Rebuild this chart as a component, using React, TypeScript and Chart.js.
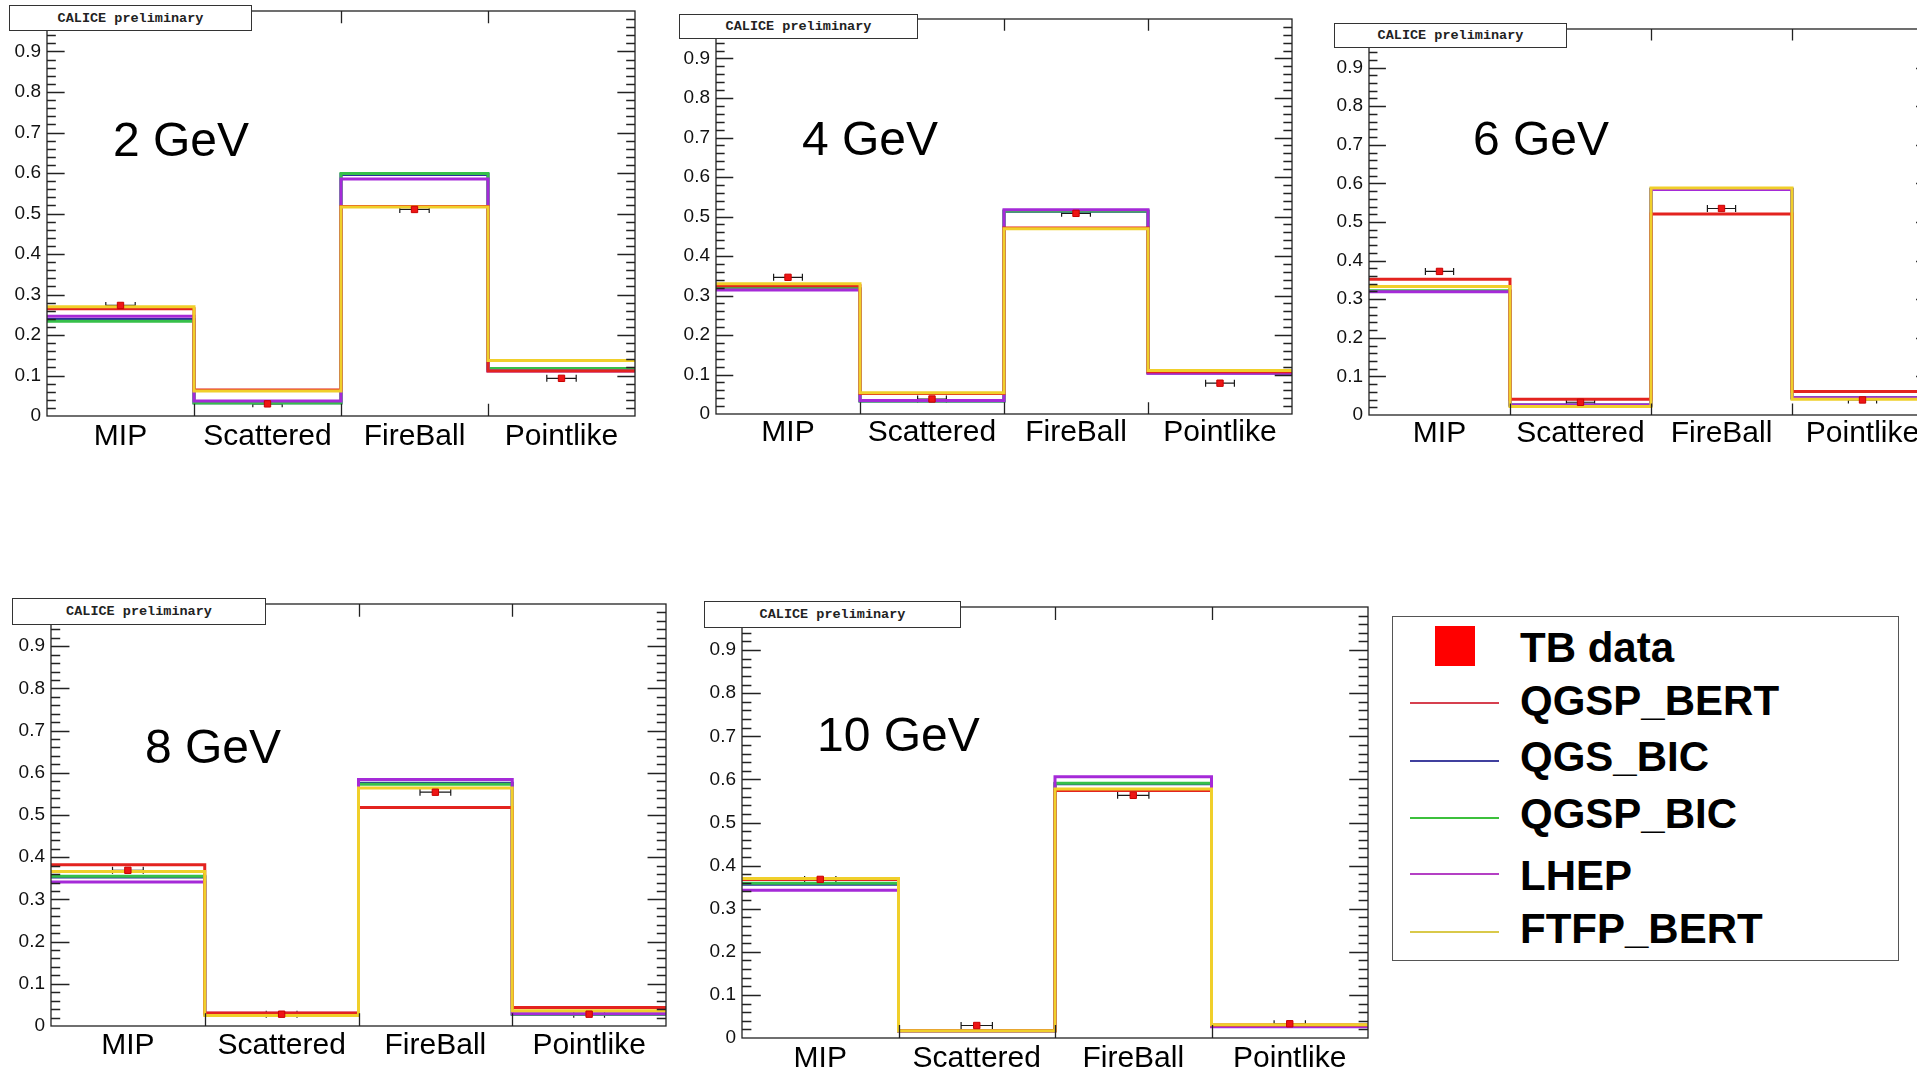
import React, { useEffect, useRef } from "react";
import { Chart, registerables } from "chart.js";

Chart.register(...registerables);

// ---------------- data ----------------
const CATEGORIES = ["MIP", "Scattered", "FireBall", "Pointlike"];
const ENERGY_LABELS = ["2 GeV", "4 GeV", "6 GeV", "8 GeV", "10 GeV"];
const Y_TICK_LABELS = ["0", "0.1", "0.2", "0.3", "0.4", "0.5", "0.6", "0.7", "0.8", "0.9"];
const Y_MAX = 1;

// one row per energy (2, 4, 6, 8, 10 GeV), one column per category
const TB_DATA = [
  [0.273, 0.030, 0.510, 0.093],
  [0.346, 0.038, 0.508, 0.078],
  [0.372, 0.033, 0.535, 0.039],
  [0.369, 0.028, 0.554, 0.028],
  [0.368, 0.029, 0.563, 0.033],
];
const TB_XERR = 0.1; // horizontal error bar half width (bin units)

const QGSP_BERT = [
  [0.265, 0.064, 0.517, 0.111],
  [0.325, 0.052, 0.471, 0.107],
  [0.352, 0.041, 0.521, 0.061],
  [0.382, 0.031, 0.518, 0.044],
  [0.368, 0.017, 0.574, 0.030],
];
const QGS_BIC = [
  [0.238, 0.033, 0.596, 0.113],
  [0.316, 0.033, 0.513, 0.104],
  [0.320, 0.026, 0.585, 0.045],
  [0.353, 0.029, 0.575, 0.028],
  [0.357, 0.017, 0.590, 0.027],
];
const QGSP_BIC = [
  [0.234, 0.032, 0.599, 0.117],
  [0.318, 0.033, 0.514, 0.105],
  [0.322, 0.025, 0.585, 0.044],
  [0.355, 0.028, 0.573, 0.028],
  [0.359, 0.017, 0.591, 0.028],
];
const LHEP = [
  [0.246, 0.037, 0.585, 0.111],
  [0.314, 0.034, 0.517, 0.103],
  [0.319, 0.026, 0.584, 0.045],
  [0.341, 0.030, 0.584, 0.029],
  [0.343, 0.017, 0.606, 0.026],
];
const FTFP_BERT = [
  [0.270, 0.062, 0.516, 0.137],
  [0.330, 0.054, 0.469, 0.110],
  [0.333, 0.022, 0.588, 0.041],
  [0.366, 0.025, 0.564, 0.036],
  [0.370, 0.017, 0.578, 0.031],
];

const MODEL_NAMES = ["QGSP_BERT", "QGS_BIC", "QGSP_BIC", "LHEP", "FTFP_BERT"];
const MODEL_VALUES = [QGSP_BERT, QGS_BIC, QGSP_BIC, LHEP, FTFP_BERT];
const MODEL_COLORS = ["#e3231f", "#2b2f9c", "#36c04a", "#a52ad8", "#f0cf2a"];
const LEGEND_COLORS = ["#d6404f", "#40409e", "#3cc03c", "#b440c4", "#d9c94a"];
// drawing priority: first = on top
const DRAW_ORDER = [4, 0, 3, 2, 1];

// ---------------- layout ----------------
const SANS = "'Liberation Sans', Arial, Helvetica, sans-serif";
const Y_AXIS_W = 50;
const X_AXIS_H = 44;
const PAD_TOP = 22;
const PAD_RIGHT = 6;

const PANELS = [
  { l: 47, t: 11, r: 635, b: 416, cal: { x: 9, y: 5, w: 243, h: 26 }, en: { x: 113, y: 116 }, lp: 3 },
  { l: 716, t: 19, r: 1292, b: 414, cal: { x: 679, y: 14, w: 239, h: 25 }, en: { x: 802, y: 115 }, lp: 1 },
  { l: 1369, t: 29, r: 1933, b: 415, cal: { x: 1334, y: 23, w: 233, h: 25 }, en: { x: 1473, y: 115 }, lp: 1 },
  { l: 51, t: 604, r: 666, b: 1026, cal: { x: 12, y: 598, w: 254, h: 27 }, en: { x: 145, y: 723 }, lp: 2 },
  { l: 742, t: 607, r: 1368, b: 1038, cal: { x: 704, y: 601, w: 257, h: 27 }, en: { x: 817, y: 711 }, lp: 3 },
];

const rootFramePlugin = {
  id: "rootFrame",
  beforeDatasetsDraw(chart: any) {
    const ctx = chart.ctx;
    const xs = chart.scales.x;
    const ys = chart.scales.y;
    const ds = chart.data.datasets[0];
    ctx.save();
    ctx.strokeStyle = "#1a1a1a";
    ctx.lineWidth = 1.2;
    ds.data.forEach((p: any) => {
      const x1 = xs.getPixelForValue(p.x - TB_XERR);
      const x2 = xs.getPixelForValue(p.x + TB_XERR);
      const y = ys.getPixelForValue(p.y);
      ctx.beginPath();
      ctx.moveTo(x1, y);
      ctx.lineTo(x2, y);
      ctx.moveTo(x1, y - 3.5);
      ctx.lineTo(x1, y + 3.5);
      ctx.moveTo(x2, y - 3.5);
      ctx.lineTo(x2, y + 3.5);
      ctx.stroke();
    });
    ctx.restore();
  },
  afterDraw(chart: any) {
    const ctx = chart.ctx;
    const a = chart.chartArea;
    const xs = chart.scales.x;
    const ys = chart.scales.y;
    const h = a.bottom - a.top;
    const w = a.right - a.left;
    const majorY = w * 0.03;
    const tickX = h * 0.03;
    ctx.save();
    ctx.strokeStyle = "#222";
    ctx.lineWidth = 1.3;
    ctx.strokeRect(a.left, a.top, w, h);
    ctx.beginPath();
    for (let k = 1; k < 50; k++) {
      const v = k / 50;
      const y = Math.round(ys.getPixelForValue(v)) + 0.5;
      const len = k % 5 === 0 ? majorY : majorY / 2;
      ctx.moveTo(a.left, y);
      ctx.lineTo(a.left + len, y);
      ctx.moveTo(a.right, y);
      ctx.lineTo(a.right - len, y);
    }
    for (let i = 1; i < CATEGORIES.length; i++) {
      const x = Math.round(xs.getPixelForValue(i)) + 0.5;
      ctx.moveTo(x, a.bottom);
      ctx.lineTo(x, a.bottom - tickX);
      ctx.moveTo(x, a.top);
      ctx.lineTo(x, a.top + tickX);
    }
    ctx.stroke();
    ctx.restore();
  },
};

function Panel({ idx }: { idx: number }) {
  const ref = useRef<HTMLCanvasElement | null>(null);
  const p = PANELS[idx];
  const cw = p.r - p.l + Y_AXIS_W + PAD_RIGHT;
  const ch = p.b - p.t + PAD_TOP + X_AXIS_H;
  const left = p.l - Y_AXIS_W;
  const top = p.t - PAD_TOP;

  useEffect(() => {
    if (!ref.current) return;
    const modelSets = DRAW_ORDER.map((m) => {
      const vals = MODEL_VALUES[m][idx];
      const pts = vals.map((v, i) => ({ x: i, y: v }));
      pts.push({ x: vals.length, y: vals[vals.length - 1] });
      return {
        type: "line" as const,
        label: MODEL_NAMES[m],
        data: pts,
        stepped: "before" as const,
        borderColor: MODEL_COLORS[m],
        backgroundColor: MODEL_COLORS[m],
        borderWidth: 3,
        pointRadius: 0,
        fill: false,
        tension: 0,
      };
    });
    const tbSet = {
      type: "scatter" as const,
      label: "TB data",
      data: TB_DATA[idx].map((v, i) => ({ x: i + 0.5, y: v })),
      pointStyle: "rect",
      pointRadius: 4.5,
      backgroundColor: "#ee1515",
      borderColor: "#c80000",
      borderWidth: 1,
      showLine: false,
    };
    const chart = new Chart(ref.current, {
      type: "line",
      data: { datasets: [tbSet as any, ...modelSets] },
      options: {
        animation: false,
        responsive: false,
        events: [],
        layout: { padding: { top: PAD_TOP, right: PAD_RIGHT, left: 0, bottom: 0 } },
        plugins: { legend: { display: false }, tooltip: { enabled: false } },
        scales: {
          x: {
            type: "linear",
            min: 0,
            max: CATEGORIES.length,
            grid: { display: false, drawTicks: false },
            border: { display: false },
            afterBuildTicks: (s: any) => {
              s.ticks = CATEGORIES.map((_, i) => ({ value: i + 0.5 }));
            },
            afterFit: (s: any) => {
              s.height = X_AXIS_H;
            },
            ticks: {
              autoSkip: false,
              maxRotation: 0,
              padding: p.lp,
              color: "#000",
              font: { family: SANS, size: 30 },
              callback: (v: any) => CATEGORIES[Math.round(Number(v) - 0.5)],
            },
          },
          y: {
            type: "linear",
            min: 0,
            max: Y_MAX,
            grid: { display: false, drawTicks: false },
            border: { display: false },
            afterBuildTicks: (s: any) => {
              s.ticks = Y_TICK_LABELS.map((_, i) => ({ value: i / 10 }));
            },
            afterFit: (s: any) => {
              s.width = Y_AXIS_W;
            },
            ticks: {
              autoSkip: false,
              padding: 6,
              color: "#111",
              font: { family: SANS, size: 19 },
              callback: (v: any) => Y_TICK_LABELS[Math.round(Number(v) * 10)],
            },
          },
        },
      },
      plugins: [rootFramePlugin],
    });
    return () => chart.destroy();
  }, [idx]);

  return (
    <>
      <canvas
        ref={ref}
        width={cw}
        height={ch}
        style={{ position: "absolute", left, top, width: cw, height: ch }}
      />
      <div
        style={{
          position: "absolute",
          left: p.cal.x,
          top: p.cal.y,
          width: p.cal.w,
          height: p.cal.h,
          boxSizing: "border-box",
          border: "1.5px solid #333",
          background: "#fff",
          display: "flex",
          alignItems: "center",
          justifyContent: "center",
          fontFamily: "'Liberation Mono', 'DejaVu Sans Mono', monospace",
          fontWeight: 700,
          fontSize: 13.5,
          color: "#222",
          zIndex: 2,
        }}
      >
        CALICE preliminary
      </div>
      <div
        style={{
          position: "absolute",
          left: p.en.x,
          top: p.en.y,
          fontFamily: SANS,
          fontSize: 48,
          lineHeight: "48px",
          color: "#000",
          whiteSpace: "nowrap",
          zIndex: 2,
        }}
      >
        {ENERGY_LABELS[idx]}
      </div>
    </>
  );
}

const LEGEND_LINE_Y = [703, 761, 818, 874, 932];
const LEGEND_TEXT_TOP = [680, 736, 793, 855, 908];

function Legend() {
  const textStyle = (top: number): React.CSSProperties => ({
    position: "absolute",
    left: 1520,
    top,
    fontFamily: SANS,
    fontWeight: 700,
    fontSize: 42,
    lineHeight: "42px",
    color: "#000",
    whiteSpace: "nowrap",
  });
  return (
    <>
      <div
        style={{
          position: "absolute",
          left: 1392,
          top: 616,
          width: 507,
          height: 345,
          boxSizing: "border-box",
          border: "1.5px solid #555",
          background: "#fff",
        }}
      />
      <div style={{ position: "absolute", left: 1435, top: 626, width: 40, height: 40, background: "#ff0000" }} />
      <div style={textStyle(627)}>TB data</div>
      {MODEL_NAMES.map((name, i) => (
        <React.Fragment key={name}>
          <div
            style={{
              position: "absolute",
              left: 1410,
              top: LEGEND_LINE_Y[i] - 1,
              width: 89,
              height: 2,
              background: LEGEND_COLORS[i],
            }}
          />
          <div style={textStyle(LEGEND_TEXT_TOP[i])}>{name}</div>
        </React.Fragment>
      ))}
    </>
  );
}

export default function App() {
  return (
    <div
      style={{
        position: "fixed",
        left: 0,
        top: 0,
        width: "100vw",
        height: "100vh",
        overflow: "hidden",
        background: "#fff",
      }}
    >
      {PANELS.map((_, i) => (
        <Panel key={i} idx={i} />
      ))}
      <Legend />
    </div>
  );
}
